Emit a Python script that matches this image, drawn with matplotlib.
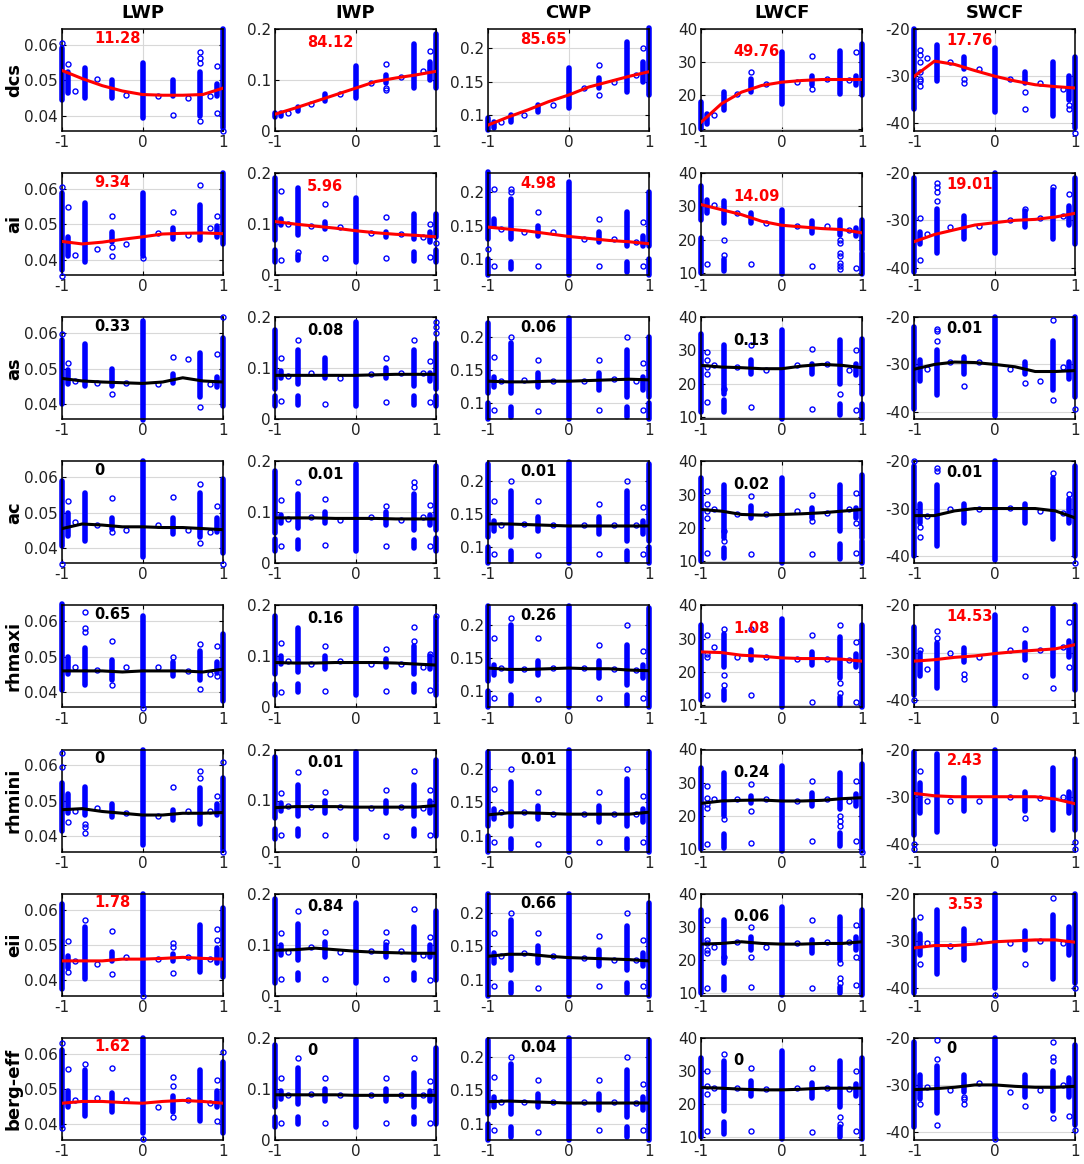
import matplotlib
matplotlib.use("Agg")
import matplotlib.pyplot as plt

plt.rcParams['axes.unicode_minus'] = False

# Column (output) and row (parameter) names
outputs = ['LWP', 'IWP', 'CWP', 'LWCF', 'SWCF']
params = ['dcs', 'ai', 'as', 'ac', 'rhmaxi', 'rhmini', 'eii', 'berg-eff']

# Sensitivity numbers written in each panel (row by row)
labels = [
    ['11.28', '84.12', '85.65', '49.76', '17.76'],
    ['9.34', '5.96', '4.98', '14.09', '19.01'],
    ['0.33', '0.08', '0.06', '0.13', '0.01'],
    ['0', '0.01', '0.01', '0.02', '0.01'],
    ['0.65', '0.16', '0.26', '1.08', '14.53'],
    ['0', '0.01', '0.01', '0.24', '2.43'],
    ['1.78', '0.84', '0.66', '0.06', '3.53'],
    ['1.62', '0', '0.04', '0', '0'],
]

# x nodes of the fitted curves
fit_x = [-1, -0.75, -0.5, -0.25, 0, 0.25, 0.5, 0.75, 1]

# ---------------- LWP ----------------
lwp_spans = [
    [(-1, .0445, .059), (-.925, .0465, .0525), (-.72, .045, .0535), (-.38, .045, .050), (0, .0395, .055),
     (.38, .0455, .050), (.72, .040, .0525), (.925, .0455, .049), (1, .0365, .0645)],
    [(-1, .037, .059), (-.925, .041, .0465), (-.72, .0395, .056), (-.38, .045, .048), (0, .041, .059),
     (.38, .046, .049), (.72, .0455, .0555), (.925, .0465, .0495), (1, .0445, .0645)],
    [(-1, .040, .058), (-.925, .0455, .0495), (-.72, .045, .057), (-.38, .045, .050), (0, .0355, .0635),
     (.38, .046, .0485), (.72, .042, .0545), (.925, .0448, .0475), (1, .0395, .0585)],
    [(-1, .0405, .059), (-.925, .0435, .050), (-.72, .042, .0555), (-.38, .0455, .0485), (0, .0375, .0645),
     (.38, .044, .0485), (.72, .043, .0555), (.925, .0445, .0485), (1, .0385, .0595)],
    [(-1, .0405, .065), (-.925, .045, .050), (-.72, .042, .0525), (-.38, .0435, .049), (0, .036, .0615),
     (.38, .0445, .0485), (.72, .0435, .0515), (.925, .0455, .0485), (1, .0375, .0565)],
    [(-1, .0415, .055), (-.925, .0465, .052), (-.72, .046, .054), (-.38, .0455, .049), (0, .0375, .0645),
     (.38, .0445, .0475), (.72, .0435, .0535), (.925, .046, .049), (1, .036, .0565)],
    [(-1, .0375, .0615), (-.925, .0435, .047), (-.72, .0405, .055), (-.38, .0455, .048), (0, .0365, .0645),
     (.38, .0455, .0475), (.72, .0425, .0555), (.925, .045, .049), (1, .041, .0605)],
    [(-1, .0395, .061), (-.925, .045, .0495), (-.72, .0425, .0555), (-.38, .0435, .049), (0, .0375, .0645),
     (.38, .0435, .048), (.72, .041, .0555), (.925, .045, .0495), (1, .0375, .0575)],
]
lwp_pts = [
    [(-1, .0605), (-.925, .0545), (-.84, .047), (-.56, .0505), (-.2, .046), (.19, .0455), (.38, .0403), (.56, .045),
     (.72, .058), (.72, .0563), (.72, .0548), (.72, .0385), (.84, .0455), (.925, .054), (.925, .0408), (1, .0358)],
    [(-1, .0605), (-1, .0355), (-.925, .055), (-.84, .0415), (-.56, .043), (-.38, .0525), (-.38, .0435), (-.38, .041),
     (-.2, .0445), (0, .0405), (.19, .0477), (.38, .0535), (.56, .047), (.72, .061), (.84, .049), (.925, .0525)],
    [(-1, .0598), (-.925, .0515), (-.84, .0465), (-.56, .046), (-.38, .0428), (-.2, .046), (.19, .0455), (.38, .0532),
     (.56, .0528), (.72, .0392), (.84, .0455), (.925, .054), (1, .0645)],
    [(-1, .0355), (-.925, .0533), (-.84, .0475), (-.56, .0465), (-.38, .054), (-.38, .0445), (-.2, .045), (.19, .0465),
     (.38, .0545), (.56, .045), (.72, .058), (.72, .0415), (.84, .0445), (.925, .052), (1, .0355)],
    [(-.84, .047), (-.72, .0625), (-.72, .058), (-.72, .057), (-.56, .0463), (-.38, .0545), (-.38, .042), (-.2, .047),
     (0, .0355), (.19, .047), (.38, .050), (.56, .046), (.72, .0535), (.72, .0408), (.84, .045), (.925, .053), (.925, .0445)],
    [(-1, .0595), (-1, .0635), (-.925, .044), (-.84, .047), (-.72, .0435), (-.72, .0425), (-.72, .041), (-.56, .048),
     (-.2, .0465), (.19, .0458), (.38, .054), (.56, .047), (.72, .0585), (.72, .0565), (.84, .047), (.925, .0515),
     (1, .061), (1, .0355)],
    [(-.925, .051), (-.925, .0425), (-.84, .0455), (-.72, .057), (-.56, .0445), (-.38, .054), (-.38, .0418), (-.2, .0465),
     (0, .0355), (.19, .046), (.38, .0495), (.38, .0505), (.38, .042), (.56, .0465), (.84, .046), (.925, .0545), (.925, .0515)],
    [(-1, .063), (-1, .039), (-.925, .0558), (-.84, .047), (-.72, .0572), (-.56, .0475), (-.38, .056), (-.2, .047),
     (0, .036), (.19, .045), (.38, .0533), (.38, .051), (.38, .042), (.56, .047), (.84, .046), (.925, .0525),
     (.925, .041), (1, .0605)],
]
lwp_fit = [
    [.0528, .0505, .0485, .047, .046, .0458, .0458, .046, .0478],
    [.0452, .0445, .045, .0458, .0465, .0473, .0475, .0476, .0474],
    [.0472, .0465, .0462, .046, .0458, .0462, .0474, .0465, .0462],
    [.0455, .0468, .0465, .046, .046, .0458, .0458, .0455, .0452],
    [.046, .046, .046, .0457, .046, .046, .046, .0457, .0465],
    [.0475, .0478, .047, .0465, .046, .046, .0465, .0465, .0467],
    [.0455, .0455, .0455, .046, .046, .0462, .0465, .0462, .046],
    [.046, .0465, .0465, .0462, .046, .0465, .0468, .0465, .046],
]

# ---------------- IWP ----------------
iwp_spans = [
    [(-1, .028, .036), (-.925, .030, .035), (-.72, .040, .048), (-.38, .058, .072), (0, .064, .127),
     (.38, .095, .110), (.72, .085, .170), (.925, .100, .135), (1, .085, .190)],
    [(-1, .068, .19), (-1, .025, .05), (-.925, .098, .11), (-.72, .078, .17), (-.72, .03, .04), (-.38, .09, .105),
     (0, .025, .152), (.38, .075, .085), (.72, .07, .12), (.72, .028, .045), (.925, .065, .085), (1, .075, .12), (1, .025, .05)],
    [(-1, .06, .175), (-1, .025, .045), (-.925, .08, .095), (-.72, .07, .135), (-.72, .028, .045), (-.38, .08, .12),
     (0, .025, .19), (.38, .08, .1), (.72, .065, .135), (.72, .028, .045), (.925, .075, .09), (1, .06, .15), (1, .025, .045)],
    [(-1, .06, .18), (-1, .025, .048), (-.925, .08, .095), (-.72, .07, .135), (-.72, .028, .045), (-.38, .08, .1),
     (0, .025, .195), (.38, .075, .1), (.72, .065, .135), (.72, .03, .045), (.925, .075, .095), (1, .065, .19), (1, .025, .05)],
    [(-1, .065, .18), (-1, .025, .045), (-.925, .085, .1), (-.72, .07, .155), (-.72, .03, .045), (-.38, .075, .1),
     (0, .025, .195), (.38, .08, .095), (.72, .065, .12), (.72, .03, .045), (.925, .075, .1), (1, .05, .175), (1, .025, .045)],
    [(-1, .065, .185), (-1, .025, .045), (-.925, .08, .095), (-.72, .07, .13), (-.72, .03, .045), (-.38, .075, .1),
     (0, .025, .195), (.38, .075, .1), (.72, .07, .13), (.72, .03, .045), (.925, .075, .1), (1, .03, .18)],
    [(-1, .025, .19), (-.925, .08, .1), (-.72, .07, .14), (-.72, .03, .045), (-.38, .075, .105), (0, .025, .182),
     (.38, .075, .1), (.72, .07, .135), (.72, .03, .045), (.925, .075, .1), (1, .03, .165)],
    [(-1, .065, .185), (-1, .025, .045), (-.925, .08, .095), (-.72, .07, .14), (-.72, .03, .045), (-.38, .075, .1),
     (0, .025, .195), (.38, .075, .1), (.72, .065, .13), (.72, .03, .045), (.925, .075, .095), (1, .03, .18)],
]
iwp_pts = [
    [(-.84, .036), (-.56, .053), (-.2, .072), (.19, .095), (.38, .132), (.38, .085), (.38, .080), (.56, .105),
     (.84, .117), (.925, .157)],
    [(-.925, .165), (-.925, .03), (-.84, .1), (-.72, .045), (-.56, .097), (-.38, .14), (-.38, .033), (-.2, .095),
     (.19, .082), (.38, .114), (.38, .033), (.56, .08), (.84, .075), (.925, .1), (.925, .035), (1, .062)],
    [(-.925, .12), (-.925, .035), (-.84, .085), (-.72, .155), (-.56, .09), (-.38, .03), (-.2, .08), (.19, .088),
     (.38, .12), (.38, .033), (.56, .09), (.72, .155), (.84, .09), (.925, .115), (.925, .033), (1, .17), (1, .18), (1, .19)],
    [(-.925, .125), (-.925, .033), (-.84, .087), (-.72, .16), (-.56, .09), (-.38, .126), (-.38, .035), (-.2, .085),
     (.19, .09), (.38, .113), (.38, .033), (.56, .085), (.72, .15), (.72, .16), (.84, .09), (.925, .115), (.925, .033)],
    [(-.925, .127), (-.925, .03), (-.84, .09), (-.56, .085), (-.38, .12), (-.38, .033), (-.2, .09), (.19, .085),
     (.38, .115), (.38, .033), (.56, .085), (.72, .13), (.72, .158), (.84, .08), (.925, .105), (.925, .035), (1, .18)],
    [(-.925, .115), (-.925, .033), (-.84, .09), (-.72, .155), (-.56, .088), (-.38, .117), (-.38, .033), (-.2, .088),
     (.19, .085), (.38, .12), (.38, .03), (.56, .088), (.72, .158), (.84, .085), (.925, .12), (.925, .033)],
    [(-.925, .123), (-.925, .032), (-.84, .085), (-.72, .165), (-.56, .095), (-.38, .125), (-.38, .033), (-.2, .085),
     (.19, .087), (.38, .125), (.38, .105), (.38, .033), (.56, .087), (.72, .17), (.84, .08), (.925, .115), (.925, .03)],
    [(-.925, .12), (-.925, .033), (-.84, .088), (-.72, .16), (-.56, .09), (-.38, .12), (-.38, .033), (-.2, .088),
     (.19, .087), (.38, .12), (.38, .033), (.56, .088), (.72, .16), (.84, .087), (.925, .115), (.925, .033)],
]
iwp_fit = [
    [.033, .045, .058, .071, .084, .097, .104, .11, .117],
    [.105, .1, .096, .092, .087, .083, .08, .078, .075],
    [.086, .086, .086, .086, .086, .087, .088, .088, .088],
    [.089, .089, .089, .088, .088, .088, .087, .087, .087],
    [.088, .087, .087, .088, .088, .088, .087, .085, .083],
    [.086, .088, .088, .088, .087, .087, .087, .087, .09],
    [.089, .09, .093, .09, .087, .085, .084, .083, .083],
    [.088, .088, .088, .088, .087, .087, .087, .087, .087],
]

# ---------------- CWP ----------------
cwp_spans = [
    [(-1, .078, .095), (-.925, .08, .09), (-.72, .09, .1), (-.38, .105, .115), (0, .11, .17), (.38, .14, .155),
     (.72, .135, .21), (.925, .15, .18), (1, .13, .23)],
    [(-1, .13, .23), (-1, .076, .1), (-.925, .15, .16), (-.72, .13, .19), (-.72, .085, .095), (-.38, .135, .15),
     (0, .076, .215), (.38, .125, .14), (.72, .12, .17), (.72, .08, .095), (.925, .12, .135), (1, .12, .2), (1, .076, .1)],
    [(-1, .115, .22), (-1, .076, .1), (-.925, .125, .14), (-.72, .115, .19), (-.72, .08, .095), (-.38, .125, .145),
     (0, .076, .228), (.38, .12, .145), (.72, .11, .18), (.72, .08, .095), (.925, .12, .14), (1, .11, .2), (1, .076, .1)],
    [(-1, .115, .225), (-1, .076, .1), (-.925, .125, .14), (-.72, .115, .185), (-.72, .08, .095), (-.38, .125, .145),
     (0, .076, .228), (.38, .12, .145), (.72, .11, .185), (.72, .08, .095), (.925, .12, .14), (1, .11, .225), (1, .076, .1)],
    [(-1, .115, .228), (-1, .076, .1), (-.925, .125, .14), (-.72, .115, .2), (-.72, .08, .095), (-.38, .125, .145),
     (0, .076, .228), (.38, .12, .145), (.72, .11, .17), (.72, .08, .095), (.925, .12, .14), (1, .076, .225)],
    [(-1, .115, .225), (-1, .076, .1), (-.925, .125, .14), (-.72, .115, .18), (-.72, .08, .095), (-.38, .125, .145),
     (0, .076, .228), (.38, .12, .145), (.72, .115, .185), (.72, .08, .095), (.925, .12, .14), (1, .076, .225)],
    [(-1, .076, .228), (-.925, .125, .14), (-.72, .115, .19), (-.72, .08, .095), (-.38, .125, .15),
     (0, .076, .228), (.38, .12, .145), (.72, .115, .18), (.72, .08, .095), (.925, .12, .14), (1, .076, .215)],
    [(-1, .115, .225), (-1, .076, .1), (-.925, .125, .14), (-.72, .115, .19), (-.72, .08, .095), (-.38, .125, .145),
     (0, .076, .228), (.38, .12, .145), (.72, .11, .18), (.72, .08, .095), (.925, .12, .14), (1, .076, .225)],
]
cwp_pts = [
    [(-.84, .09), (-.56, .1), (-.2, .115), (.19, .14), (.38, .175), (.38, .13), (.56, .15), (.84, .16), (.925, .2)],
    [(-1, .115), (-.925, .205), (-.925, .09), (-.84, .145), (-.72, .205), (-.72, .2), (-.56, .14), (-.38, .17),
     (-.38, .09), (-.2, .14), (.19, .13), (.38, .16), (.38, .09), (.56, .13), (.84, .125), (.925, .155), (.925, .09)],
    [(-.925, .17), (-.925, .09), (-.84, .133), (-.72, .2), (-.56, .135), (-.38, .165), (-.38, .088), (-.2, .133),
     (.19, .133), (.38, .165), (.38, .09), (.56, .136), (.72, .2), (.84, .133), (.925, .16), (.925, .09)],
    [(-.925, .17), (-.925, .09), (-.84, .133), (-.72, .2), (-.56, .135), (-.38, .17), (-.38, .088), (-.2, .133),
     (.19, .133), (.38, .165), (.38, .09), (.56, .133), (.72, .2), (.84, .133), (.925, .16), (.925, .09)],
    [(-.925, .18), (-.925, .09), (-.84, .135), (-.72, .21), (-.56, .133), (-.38, .18), (-.38, .088), (-.2, .135),
     (.19, .135), (.38, .17), (.38, .09), (.56, .133), (.72, .2), (.84, .132), (.925, .16), (.925, .09)],
    [(-.925, .17), (-.925, .09), (-.84, .135), (-.72, .2), (-.56, .135), (-.38, .165), (-.38, .088), (-.2, .133),
     (.19, .133), (.38, .165), (.38, .09), (.56, .133), (.72, .2), (.84, .133), (.925, .16), (.925, .09)],
    [(-.925, .17), (-.925, .09), (-.84, .135), (-.72, .2), (-.56, .14), (-.38, .17), (-.38, .088), (-.2, .135),
     (.19, .133), (.38, .165), (.38, .09), (.56, .13), (.72, .2), (.84, .13), (.925, .16), (.925, .09)],
    [(-.925, .17), (-.925, .09), (-.84, .133), (-.72, .2), (-.56, .133), (-.38, .165), (-.38, .088), (-.2, .132),
     (.19, .132), (.38, .165), (.38, .09), (.56, .132), (.72, .2), (.84, .131), (.925, .16), (.925, .09)],
]
cwp_fit = [
    [.085, .097, .108, .12, .13, .142, .15, .158, .165],
    [.148, .145, .142, .138, .134, .131, .128, .126, .123],
    [.133, .132, .132, .133, .133, .134, .135, .136, .135],
    [.135, .135, .134, .133, .132, .132, .132, .132, .132],
    [.135, .133, .133, .134, .135, .134, .134, .132, .131],
    [.131, .134, .134, .133, .132, .132, .132, .132, .135],
    [.135, .138, .138, .135, .133, .132, .131, .13, .128],
    [.133, .134, .133, .132, .131, .131, .131, .131, .131],
]

# ---------------- LWCF ----------------
lwcf_spans = [
    [(-1, 10, 18), (-.925, 11.5, 14.5), (-.72, 15.5, 21), (-.38, 21, 25), (0, 17.5, 33), (.38, 23, 26),
     (.72, 20.5, 33.5), (.925, 23, 26), (1, 20, 35.5)],
    [(-1, 26, 36), (-1, 10, 20.5), (-.925, 28, 32), (-.72, 25, 31.5), (-.72, 10.5, 14), (-.38, 25, 28), (0, 9.5, 29),
     (.38, 22, 25.5), (.72, 21.5, 26), (.925, 21, 23.5), (1, 17, 26), (1, 9.5, 16)],
    [(-1, 11.5, 35), (-.72, 17, 31.5), (-.72, 11.5, 15), (-.38, 23, 27), (0, 9.5, 36), (.38, 23, 26), (.72, 20, 33),
     (.72, 10.5, 14), (.925, 22.5, 26), (1, 17, 33.5), (1, 9.5, 14)],
    [(-1, 10, 35), (-.72, 17, 33), (-.72, 11, 14), (-.38, 23, 26.5), (0, 9.5, 35), (.38, 23, 26), (.72, 19, 33),
     (.72, 10.5, 15), (.925, 23, 26), (1, 17, 36), (1, 9.5, 16)],
    [(-1, 11.5, 34), (-.72, 21.5, 31.5), (-.72, 11.5, 14.5), (-.38, 23.5, 26.5), (0, 9.5, 36), (.38, 22, 26),
     (.72, 18, 30.5), (.72, 10, 12.5), (.925, 21.5, 25.5), (1, 9.5, 34)],
    [(-1, 10, 34.5), (-.72, 20, 33), (-.72, 10.5, 14.5), (-.38, 24, 26), (0, 9.5, 35), (.38, 23, 27), (.72, 22, 33),
     (.72, 11, 15), (.925, 23, 26.5), (1, 9.5, 35.5)],
    [(-1, 10, 35), (-.72, 19, 32), (-.72, 11, 15), (-.38, 23, 27), (0, 9.5, 36), (.38, 22, 26), (.72, 20, 33),
     (.72, 10, 12), (.925, 23, 27), (1, 9.5, 35)],
    [(-1, 10, 34), (-.72, 18, 33), (-.72, 11, 14.5), (-.38, 22.5, 27), (0, 9.5, 36), (.38, 22, 26.5), (.72, 19, 33),
     (.72, 10, 13), (.925, 22.5, 26), (1, 9.5, 34)],
]
lwcf_pts = [
    [(-.84, 14), (-.56, 20.5), (-.38, 27), (-.2, 23.5), (.19, 24), (.38, 32), (.38, 22), (.56, 25), (.84, 24.5), (.925, 33)],
    [(-.925, 12.5), (-.84, 30.5), (-.72, 20), (-.72, 15.5), (-.56, 28), (-.38, 12.5), (-.2, 25), (.19, 24), (.38, 12),
     (.56, 24), (.72, 20), (.72, 19), (.72, 16), (.72, 15), (.72, 13), (.72, 12), (.72, 11), (.84, 23), (.925, 11.5)],
    [(-.925, 29.5), (-.925, 27), (-.925, 25), (-.925, 23), (-.925, 14.5), (-.84, 25.5), (-.72, 18.5), (-.56, 25),
     (-.38, 31.5), (-.38, 13), (-.2, 24), (.19, 25.5), (.38, 30.5), (.38, 12.5), (.56, 26), (.72, 17), (.84, 24),
     (.925, 30), (.925, 12)],
    [(-.925, 31), (-.925, 27), (-.925, 25), (-.925, 23), (-.925, 12.5), (-.84, 25.5), (-.72, 19), (-.72, 16), (-.56, 24),
     (-.38, 29.5), (-.38, 12), (-.2, 24), (.19, 25), (.38, 30), (.38, 22), (.38, 12), (.56, 24.5), (.84, 25.5),
     (.925, 30.5), (.925, 21.5), (.925, 12.5)],
    [(-.925, 31), (-.925, 25.5), (-.925, 24.5), (-.925, 13), (-.84, 27.5), (-.72, 33), (-.72, 19), (-.72, 16),
     (-.56, 24.5), (-.38, 33), (-.38, 13), (-.2, 24.5), (.19, 24), (.38, 31), (.38, 11), (.56, 24), (.72, 34),
     (.72, 16.5), (.72, 13.5), (.84, 23.5), (.925, 29), (.925, 11)],
    [(-.925, 29), (-.925, 25.5), (-.925, 23.5), (-.925, 22.5), (-.925, 11.5), (-.84, 25), (-.72, 19), (-.56, 25),
     (-.38, 29.5), (-.38, 21.5), (-.38, 12), (-.2, 25), (.19, 24.5), (.38, 30.5), (.38, 12.5), (.56, 25), (.72, 20),
     (.72, 18.5), (.72, 17), (.84, 24.5), (.925, 30.5), (.925, 12.5), (1, 9)],
    [(-.925, 32), (-.925, 26), (-.925, 25), (-.925, 23), (-.925, 22), (-.925, 11.5), (-.84, 24), (-.72, 21),
     (-.56, 25.5), (-.38, 30), (-.38, 21), (-.38, 12), (-.2, 24), (.19, 25), (.38, 32), (.38, 11.5), (.56, 25.5),
     (.72, 19), (.72, 14.5), (.72, 13), (.84, 25.5), (.925, 30.5), (.925, 21), (.925, 12.5)],
    [(-.925, 30), (-.925, 25.5), (-.925, 23), (-.925, 12), (-.84, 25), (-.72, 35), (-.56, 25), (-.38, 31), (-.38, 12),
     (-.2, 24.5), (.19, 25), (.38, 31), (.38, 11.5), (.56, 25), (.72, 16), (.72, 14), (.84, 24.5), (.925, 30), (.925, 12)],
]
lwcf_fit = [
    [12, 17.5, 21, 23, 24, 24.5, 24.8, 24.8, 24.8],
    [30.5, 29, 27.5, 25.5, 24.3, 23.8, 23.3, 23, 22],
    [25.5, 25, 24.8, 24.5, 24.5, 25.3, 25.8, 25.5, 24.8],
    [25.5, 25, 24, 23.8, 24, 24.2, 24.5, 25, 25.5],
    [26, 25.8, 25, 24.7, 24.2, 24, 24, 23.8, 23.2],
    [23.8, 24.5, 24.7, 24.8, 24.5, 24.5, 24.7, 25.2, 25.5],
    [24.8, 25, 25.5, 25, 24.8, 24.8, 25, 25, 25.5],
    [25, 24.8, 24.5, 24.3, 24.3, 24.5, 24.8, 24.8, 24.8],
]

# ---------------- SWCF ----------------
swcf_spans = [
    [(-1, -37, -20), (-.72, -31, -23.3), (-.38, -28.5, -26), (0, -37.5, -24), (.38, -31.5, -29), (.72, -38.5, -27),
     (.925, -35, -30), (1, -41, -26)],
    [(-1, -41, -21), (-.925, -35, -32.5), (-.72, -37, -27.5), (-.38, -34, -29), (0, -37, -20), (.38, -31.5, -28),
     (.72, -34, -23.5), (.925, -31, -27), (1, -35, -21)],
    [(-1, -39.5, -22), (-.925, -33.5, -29), (-.72, -36.5, -27), (-.38, -32, -28.5), (0, -41, -20), (.38, -32, -29.5),
     (.72, -35.5, -25), (.925, -33, -29.5), (1, -37, -20)],
    [(-1, -40, -21), (-.925, -33, -29), (-.72, -38, -25), (-.38, -33, -29), (0, -41, -20), (.38, -33, -29),
     (.72, -36.5, -23.5), (.925, -33, -28), (1, -40, -21)],
    [(-1, -39, -24.5), (-.925, -35, -30), (-.72, -37.5, -28), (-.38, -32, -29), (0, -41, -22), (.38, -31.5, -28),
     (.72, -35, -20.5), (.925, -31, -27.5), (1, -38, -20)],
    [(-1, -38, -20.5), (-.925, -33.5, -27), (-.72, -37.5, -21), (-.38, -33, -26), (0, -40, -20), (.38, -33, -29),
     (.72, -37, -24), (.925, -33.5, -29), (1, -37, -22)],
    [(-1, -41, -25.5), (-.925, -33, -28.5), (-.72, -37, -23.5), (-.38, -34, -27.5), (0, -40, -20), (.38, -32, -28),
     (.72, -38, -24.5), (.925, -33, -27), (1, -39, -20)],
    [(-1, -39, -21), (-.925, -33, -28), (-.72, -36, -26), (-.38, -31.5, -28), (0, -41, -20), (.38, -32.5, -28),
     (.72, -35.5, -27), (.925, -32.5, -28.5), (1, -38.5, -21.5)],
]
swcf_pts = [
    [(-.925, -24.5), (-.925, -25.5), (-.925, -27), (-.925, -29), (-.925, -30.5), (-.925, -31), (-.925, -32),
     (-.84, -26.2), (-.56, -27), (-.38, -30.5), (-.38, -31.5), (-.2, -28.5), (.19, -30.5), (.38, -33.3), (.38, -37),
     (.56, -31.5), (.84, -32.8), (.925, -36), (.925, -37), (1, -42)],
    [(-.925, -29.5), (-.925, -38.5), (-.84, -33), (-.72, -22), (-.72, -23), (-.72, -24), (-.72, -26), (-.56, -31.5),
     (-.2, -31.3), (.19, -30), (.38, -27.5), (.56, -29.5), (.72, -23), (.84, -29), (.925, -24.5)],
    [(-.84, -31), (-.72, -23), (-.72, -22.5), (-.72, -25), (-.56, -29.5), (-.38, -34.5), (-.2, -29.5), (.19, -31),
     (.38, -34), (.56, -33.5), (.72, -20.5), (.72, -37.5), (.84, -30.5), (1, -39.5)],
    [(-1, -20), (-.925, -34), (-.925, -36), (-.84, -31.5), (-.72, -21.5), (-.72, -22), (-.56, -30), (-.2, -30),
     (.19, -29.8), (.56, -30.5), (.72, -22.5), (.84, -31), (.925, -27), (1, -41.5)],
    [(-1, -40), (-.925, -29.5), (-.84, -33.5), (-.72, -25.5), (-.72, -27), (-.56, -30), (-.38, -34.5), (-.38, -35.5),
     (-.2, -31), (.19, -29.5), (.38, -25), (.38, -35), (.56, -29.5), (.72, -37.5), (.84, -28.8), (.925, -23.5), (.925, -33)],
    [(-1, -40), (-1, -41), (-.925, -24.5), (-.84, -30.8), (-.56, -30.8), (-.2, -31), (.19, -30), (.38, -34.5),
     (.56, -30.2), (.84, -30), (1, -39.5), (1, -41)],
    [(-.925, -25), (-.925, -35), (-.84, -30.5), (-.56, -31), (-.2, -30), (0, -41.5), (.19, -30.5), (.38, -35),
     (.56, -30), (.72, -21), (.84, -30.5), (1, -40)],
    [(-.925, -34), (-.84, -30.5), (-.72, -20.5), (-.72, -24.5), (-.72, -38.5), (-.56, -31), (-.38, -32.5), (-.38, -33),
     (-.38, -34), (-.2, -29.5), (0, -41.5), (.19, -31.5), (.38, -34.5), (.56, -31), (.72, -21), (.72, -24), (.72, -25),
     (.72, -37), (.84, -30), (.925, -36.5), (1, -39.5)],
]
swcf_fit = [
    [-30, -26.8, -27.5, -28.8, -30, -31, -31.8, -32.2, -32.5],
    [-34.5, -33, -32, -31, -30.5, -30, -29.8, -29.3, -28.5],
    [-31, -30, -29.5, -29.6, -30, -30.5, -31.5, -31.5, -31.3],
    [-31.5, -31.5, -30.5, -30, -30, -30, -30, -30.5, -32],
    [-31.8, -31.5, -31, -30.7, -30.2, -29.8, -29.5, -29.2, -28.3],
    [-29.3, -29.8, -30, -30, -30, -30, -30, -30.5, -31.5],
    [-31.5, -31, -31, -30.7, -30.2, -30, -29.8, -29.8, -30.3],
    [-31, -30.8, -30.5, -30, -30, -30.3, -30.5, -30.5, -30.3],
]

all_spans = [lwp_spans, iwp_spans, cwp_spans, lwcf_spans, swcf_spans]
all_pts = [lwp_pts, iwp_pts, cwp_pts, lwcf_pts, swcf_pts]
all_fit = [lwp_fit, iwp_fit, cwp_fit, lwcf_fit, swcf_fit]

# axis settings per column
ylims = [(0.0357, 0.0645), (0, 0.2), (0.076, 0.229), (9.3, 40), (-41.6, -20)]
yticks = [[0.04, 0.05, 0.06], [0, 0.1, 0.2], [0.1, 0.15, 0.2], [10, 20, 30, 40], [-40, -30, -20]]
yticklabels = [['0.04', '0.05', '0.06'], ['0', '0.1', '0.2'], ['0.1', '0.15', '0.2'],
               ['10', '20', '30', '40'], ['-40', '-30', '-20']]
label_ypos = [0.91, 0.87, 0.90, 0.775, 0.89]

W, H = 1084, 1164
fig = plt.figure(figsize=(W / 100, H / 100), dpi=100)

blue = '#0000ff'
for r in range(8):
    for c in range(5):
        left = (62 + 213.1 * c) / W
        top = 29 + 144.1 * r
        ax = fig.add_axes([left, 1 - (top + 102) / H, 161 / W, 102 / H])

        # dense columns of points
        for x, lo, hi in all_spans[c][r]:
            ax.plot([x, x], [lo, hi], color=blue, lw=4.0, solid_capstyle='round', zorder=2, clip_on=False)
        # single points
        px = [p[0] for p in all_pts[c][r]]
        py = [p[1] for p in all_pts[c][r]]
        ax.plot(px, py, 'o', ms=3.6, mfc='none', mec=blue, mew=1.0, zorder=3, clip_on=False)

        val = labels[r][c]
        col = 'red' if float(val) > 1 else 'black'
        ax.plot(fit_x, all_fit[c][r], color=col, lw=2.2, zorder=4)
        ax.text(0.2, label_ypos[c], val, transform=ax.transAxes, color=col, fontsize=10.5,
                fontweight='bold', ha='left', va='center', zorder=5)

        ax.set_xlim(-1, 1)
        ax.set_ylim(*ylims[c])
        ax.set_xticks([-1, 0, 1])
        ax.set_xticklabels(['-1', '0', '1'])
        ax.set_yticks(yticks[c])
        ax.set_yticklabels(yticklabels[c])
        ax.grid(True, color='#d8d8d8', lw=0.8)
        ax.set_axisbelow(True)
        ax.tick_params(direction='in', length=3, top=True, right=True, labelsize=11,
                       labelcolor='#222222', pad=3)
        for s in ax.spines.values():
            s.set_linewidth(1.1)

        if r == 0:
            ax.set_title(outputs[c], fontsize=13, fontweight='bold', pad=8)
        if c == 0:
            fig.text(14 / W, 1 - (top + 51) / H, params[r], rotation=90, fontsize=13,
                     fontweight='bold', ha='center', va='center')

fig.savefig('out.png', dpi=100)
